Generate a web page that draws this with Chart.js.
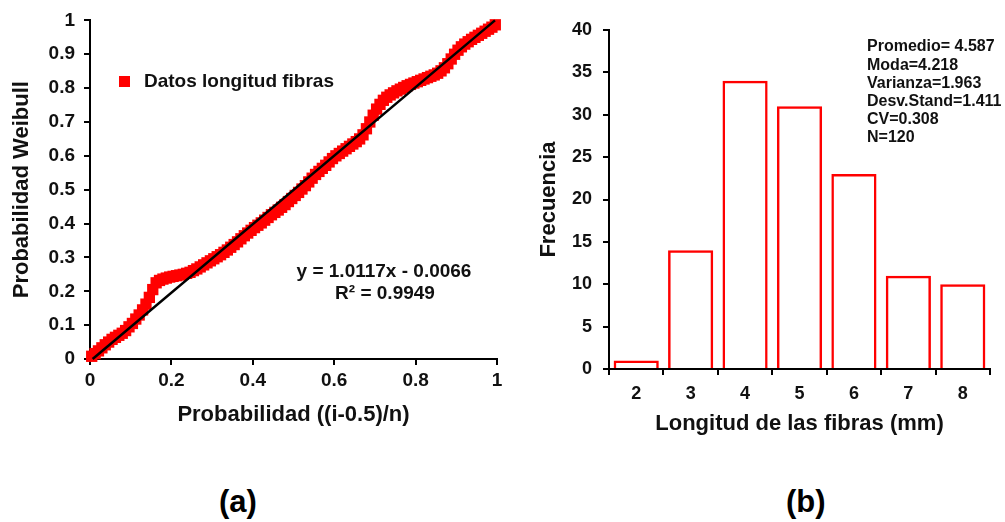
<!DOCTYPE html>
<html><head><meta charset="utf-8">
<script src="https://cdn.jsdelivr.net/npm/chart.js@4.4.1/dist/chart.umd.min.js"></script>
<style>
html,body{margin:0;padding:0;background:#fff;}
body{width:1005px;height:522px;overflow:hidden;position:relative;font-family:"Liberation Sans",Arial,sans-serif;}
#ca{position:absolute;left:0;top:0;}
#cb{position:absolute;left:510px;top:0;}
.lab{position:absolute;top:486px;font-weight:bold;font-size:31px;line-height:1;color:#000;}
</style></head><body>
<canvas id="ca" width="510" height="445"></canvas>
<canvas id="cb" width="495" height="445"></canvas>
<div class="lab" style="left:219px">(a)</div>
<div class="lab" style="left:786px">(b)</div>
<script>
// ---------- Panel (a): probability plot ----------
const probX = [
 0.0042,0.0125,0.0208,0.0292,0.0375,0.0458,0.0542,0.0625,0.0708,0.0792,0.0875,0.0958,
 0.1042,0.1125,0.1208,0.1292,0.1375,0.1458,0.1542,0.1625,0.1708,0.1792,0.1875,0.1958,
 0.2042,0.2125,0.2208,0.2292,0.2375,0.2458,0.2542,0.2625,0.2708,0.2792,0.2875,0.2958,
 0.3042,0.3125,0.3208,0.3292,0.3375,0.3458,0.3542,0.3625,0.3708,0.3792,0.3875,0.3958,
 0.4042,0.4125,0.4208,0.4292,0.4375,0.4458,0.4542,0.4625,0.4708,0.4792,0.4875,0.4958,
 0.5042,0.5125,0.5208,0.5292,0.5375,0.5458,0.5542,0.5625,0.5708,0.5792,0.5875,0.5958,
 0.6042,0.6125,0.6208,0.6292,0.6375,0.6458,0.6542,0.6625,0.6708,0.6792,0.6875,0.6958,
 0.7042,0.7125,0.7208,0.7292,0.7375,0.7458,0.7542,0.7625,0.7708,0.7792,0.7875,0.7958,
 0.8042,0.8125,0.8208,0.8292,0.8375,0.8458,0.8542,0.8625,0.8708,0.8792,0.8875,0.8958,
 0.9042,0.9125,0.9208,0.9292,0.9375,0.9458,0.9542,0.9625,0.9708,0.9792,0.9875,0.9958
];
const weibullY = [
 0.008,0.016,0.024,0.033,0.042,0.050,0.058,0.064,0.070,0.076,0.084,0.095,
 0.105,0.118,0.130,0.145,0.162,0.182,0.205,0.225,0.232,0.236,0.239,0.242,
 0.244,0.246,0.248,0.250,0.253,0.256,0.261,0.266,0.272,0.278,0.284,0.290,
 0.296,0.302,0.308,0.315,0.322,0.330,0.338,0.346,0.355,0.364,0.372,0.380,
 0.388,0.395,0.402,0.410,0.418,0.426,0.433,0.440,0.448,0.456,0.465,0.474,
 0.483,0.492,0.502,0.512,0.523,0.534,0.545,0.554,0.563,0.572,0.582,0.592,
 0.600,0.607,0.614,0.621,0.628,0.635,0.642,0.650,0.662,0.680,0.700,0.720,
 0.738,0.752,0.764,0.773,0.780,0.786,0.792,0.797,0.802,0.807,0.811,0.815,
 0.819,0.823,0.827,0.831,0.835,0.839,0.844,0.851,0.860,0.872,0.886,0.900,
 0.912,0.922,0.930,0.937,0.944,0.950,0.956,0.962,0.968,0.974,0.980,0.987
];
const trendX = [0.0065, 0.995];
const trendY = [0.0, 1.0];
const legendLabelA = "Datos longitud fibras";
const equationLines = ["y = 1.0117x - 0.0066", "R\u00B2 = 0.9949"];
const titleXA = "Probabilidad ((i-0.5)/n)";
const titleYA = "Probabilidad Weibull";

// ---------- Panel (b): histogram ----------
const lengthCats = ["2","3","4","5","6","7","8"];
const frequencies = [1, 14, 34, 31, 23, 11, 10];
const statsLines = ["Promedio= 4.587","Moda=4.218","Varianza=1.963","Desv.Stand=1.411","CV=0.308","N=120"];
const titleXB = "Longitud de las fibras (mm)";
const titleYB = "Frecuencia";

const FAM = "'Liberation Sans', Arial, sans-serif";
const TXT = '#111';

function axisBase(){
  return {
    border:{display:true,color:'#000',width:2},
    grid:{display:true,drawOnChartArea:false,drawTicks:true,tickLength:6,color:'#000',lineWidth:2},
  };
}

const annotA = {
  id:'annotA',
  afterDraw(chart){
    const ctx = chart.ctx; ctx.save();
    ctx.fillStyle = '#ff0000'; ctx.fillRect(119,76,11,11);
    ctx.fillStyle = TXT; ctx.font = "bold 19px " + FAM;
    ctx.textBaseline = 'middle'; ctx.textAlign = 'left';
    ctx.fillText(legendLabelA, 144, 82);
    ctx.textAlign = 'center';
    ctx.fillText(equationLines[0], 384, 272);
    ctx.fillText(equationLines[1], 385, 294);
    ctx.restore();
  }
};

const pointsA = probX.map((x,i)=>({x, y: weibullY[i]}));
const trendPts = trendX.map((x,i)=>({x, y: trendY[i]}));

new Chart(document.getElementById('ca'), {
  type:'scatter',
  data:{datasets:[
    {label:'trend', data:trendPts, showLine:true, borderColor:'#000', borderWidth:2.5, pointRadius:0, order:0, clip:false},
    {label:legendLabelA, data:pointsA, pointStyle:'rect', pointRadius:8, backgroundColor:'#ff0000', borderColor:'#ff0000', borderWidth:0, order:1, clip:false}
  ]},
  options:{
    responsive:false, animation:false, devicePixelRatio:1,
    layout:{padding:{left:0,top:20,right:13,bottom:0}},
    plugins:{legend:{display:false}, tooltip:{enabled:false}},
    scales:{
      x:Object.assign(axisBase(), {
        type:'linear', min:0, max:1,
        ticks:{stepSize:0.2, padding:4, color:TXT, font:{family:FAM,size:19,weight:'bold'}, callback:v=>String(+v.toFixed(1))},
        title:{display:true, text:titleXA, color:TXT, font:{family:FAM,size:22,weight:'bold'}, padding:{top:0,bottom:17}},
        afterFit(s){ s.height = 86; }
      }),
      y:Object.assign(axisBase(), {
        type:'linear', min:0, max:1,
        ticks:{stepSize:0.1, padding:9, color:TXT, font:{family:FAM,size:19,weight:'bold'}, callback:v=>String(+v.toFixed(1))},
        title:{display:true, text:titleYA, color:TXT, font:{family:FAM,size:22,weight:'bold'}, padding:{top:9,bottom:0}},
        afterFit(s){ s.width = 90; }
      })
    }
  },
  plugins:[annotA]
});

const annotB = {
  id:'annotB',
  afterDraw(chart){
    const ctx = chart.ctx; ctx.save();
    ctx.fillStyle = TXT; ctx.font = "bold 16px " + FAM;
    ctx.textBaseline = 'middle'; ctx.textAlign = 'left';
    statsLines.forEach((t,i)=>ctx.fillText(t, 357, 47 + i*18.2));
    ctx.restore();
  }
};

new Chart(document.getElementById('cb'), {
  type:'bar',
  data:{labels:lengthCats, datasets:[
    {label:'Frecuencia', data:frequencies, backgroundColor:'rgba(255,255,255,0)', borderColor:'#ff0000', borderWidth:2.5,
     categoryPercentage:1.0, barPercentage:0.83}
  ]},
  options:{
    responsive:false, animation:false, devicePixelRatio:1,
    layout:{padding:{left:0,top:30,right:15,bottom:0}},
    plugins:{legend:{display:false}, tooltip:{enabled:false}},
    scales:{
      x:Object.assign(axisBase(), {
        offset:true,
        grid:{display:true,offset:true,drawOnChartArea:false,drawTicks:true,tickLength:6,color:'#000',lineWidth:2},
        ticks:{padding:8, color:TXT, font:{family:FAM,size:18,weight:'bold'}},
        title:{display:true, text:titleXB, color:TXT, font:{family:FAM,size:22,weight:'bold'}, padding:{top:0,bottom:8}},
        afterFit(s){ s.height = 76; }
      }),
      y:Object.assign(axisBase(), {
        min:0, max:40,
        ticks:{stepSize:5, padding:11, color:TXT, font:{family:FAM,size:18,weight:'bold'}},
        title:{display:true, text:titleYB, color:TXT, font:{family:FAM,size:22,weight:'bold'}, padding:{top:26,bottom:0}},
        afterFit(s){ s.width = 99; }
      })
    }
  },
  plugins:[annotB]
});
</script>
</body></html>
